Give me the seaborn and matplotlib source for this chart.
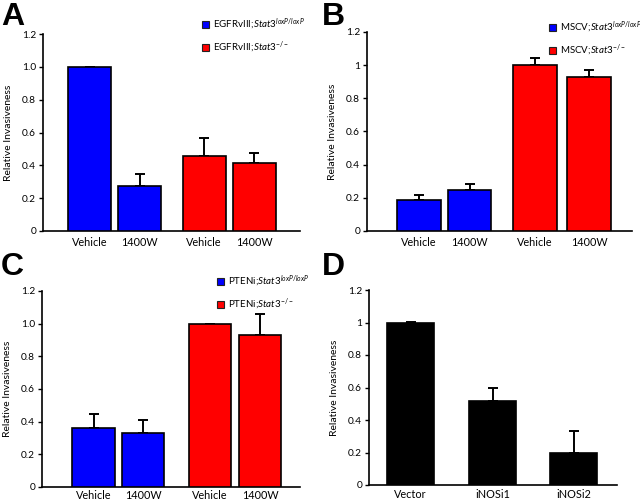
import numpy as np
import pandas as pd
import matplotlib
matplotlib.use("Agg")
import matplotlib.pyplot as plt
import seaborn as sns
from matplotlib.patches import Patch

sns.set_style("ticks")
plt.rcParams["font.family"] = ["Lato", "DejaVu Sans"]
plt.rcParams["mathtext.fontset"] = "custom"
plt.rcParams["mathtext.it"] = "Lato:italic"
plt.rcParams["mathtext.rm"] = "Lato"
for k in ["text.color", "axes.labelcolor", "xtick.color", "ytick.color", "axes.edgecolor"]:
    plt.rcParams[k] = "black"

# data
labels_ab = ["Vehicle", "1400W", "Vehicle", "1400W"]
geno_a = ["EGFRvIII;$Stat3^{loxP/loxP}$", "EGFRvIII;$Stat3^{-/-}$"]
geno_b = ["MSCV;$Stat3^{loxP/loxP}$", "MSCV;$Stat3^{-/-}$"]
geno_c = ["PTENi;$Stat3^{loxP/loxP}$", "PTENi;$Stat3^{-/-}$"]

vals_a = [1.0, 0.275, 0.455, 0.415]
err_a = [0.0, 0.07, 0.11, 0.06]
vals_b = [0.185, 0.25, 1.0, 0.93]
err_b = [0.035, 0.035, 0.045, 0.04]
vals_c = [0.36, 0.33, 1.0, 0.93]
err_c = [0.09, 0.08, 0.0, 0.13]

labels_d = ["Vector", "iNOSi1", "iNOSi2"]
vals_d = [1.0, 0.52, 0.195]
err_d = [0.005, 0.08, 0.135]

W, H = 640, 501
fig = plt.figure(figsize=(W / 100, H / 100), dpi=100)

BLUE, RED = "#0000ff", "#ff0000"


def make_ax(left, top, right, bottom):
    return fig.add_axes([left / W, 1 - bottom / H, (right - left) / W, (bottom - top) / H])


def panel(ax, pos, vals, errs, labels, colors, width, xlim, yfmt, xpad=4):
    df = pd.DataFrame({"x": pos, "y": vals, "c": [str(i) for i in range(len(vals))]})
    sns.barplot(data=df, x="x", y="y", hue="c", palette=colors, native_scale=True,
                dodge=False, width=width, saturation=1, edgecolor="black", linewidth=1.2,
                legend=False, ax=ax, zorder=3)
    ax.errorbar(pos, vals, yerr=[np.zeros(len(errs)), errs], fmt="none",
                ecolor="black", elinewidth=1.4, capsize=3.5, capthick=1.4, zorder=2)
    ax.set_xlim(*xlim)
    ax.set_ylim(0, 1.2)
    ax.set_yticks([0, 0.2, 0.4, 0.6, 0.8, 1.0, 1.2])
    ax.set_yticklabels(yfmt)
    ax.set_xticks(pos)
    ax.set_xticklabels(labels, fontsize=7.8)
    ax.tick_params(axis="x", length=0, pad=xpad)
    ax.tick_params(axis="y", length=3, width=1, labelsize=7.3, pad=2)
    ax.set_xlabel("")
    ax.set_ylabel("Relative Invasiveness", fontsize=7.5, labelpad=6)
    for s in ["top", "right"]:
        ax.spines[s].set_visible(False)
    for s in ["left", "bottom"]:
        ax.spines[s].set_linewidth(1.2)


fmt1 = ["0", "0.2", "0.4", "0.6", "0.8", "1.0", "1.2"]
fmt2 = ["0", "0.2", "0.4", "0.6", "0.8", "1", "1.2"]
cols4 = [BLUE, BLUE, RED, RED]

# positions in pixel-like units along each x axis
axA = make_ax(43, 34, 300, 231)
panel(axA, [89.5, 139.5, 204, 254], vals_a, err_a, labels_ab, cols4, 0.86, (43, 300), fmt1)
axB = make_ax(367, 32, 632, 231)
panel(axB, [419, 469.5, 535, 589], vals_b, err_b, labels_ab, cols4, 0.87, (367, 632), fmt2)
axC = make_ax(42, 291, 300, 487)
panel(axC, [93.5, 143, 210, 260], vals_c, err_c, labels_ab, cols4, 0.86, (42, 300), fmt1, xpad=2)
axD = make_ax(369, 290, 617, 485)
panel(axD, [410.5, 492.5, 573.5], vals_d, err_d, labels_d, ["black"] * 3, 0.58, (369, 617), fmt2, xpad=3)


def legend(genos, x, y):
    handles = [Patch(facecolor=BLUE, edgecolor="#222222", linewidth=0.8),
               Patch(facecolor=RED, edgecolor="#222222", linewidth=0.8)]
    fig.legend(handles, genos, loc="upper left", bbox_to_anchor=(x / W, 1 - y / H),
               frameon=False, fontsize=7, handlelength=0.7, handleheight=0.7,
               handletextpad=0.4, labelspacing=0.8, borderpad=0, borderaxespad=0)


legend(geno_a, 202, 17)
legend(geno_b, 549, 20)
legend(geno_c, 217, 274)

for letter, x, y in [("A", 1, 2), ("B", 322, 2), ("C", 1, 252), ("D", 322, 252)]:
    fig.text(x / W, 1 - y / H, letter, fontsize=23, fontweight="heavy",
             family=["Liberation Sans", "DejaVu Sans"], va="top", ha="left")

fig.savefig("out.png", dpi=100)
